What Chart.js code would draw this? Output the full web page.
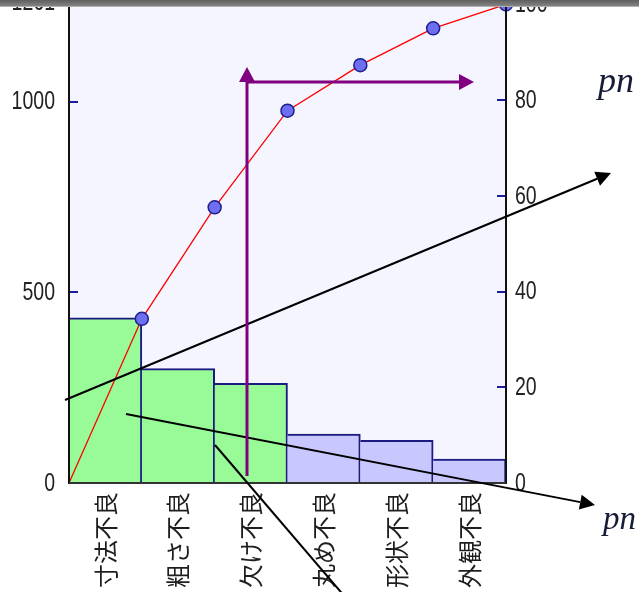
<!DOCTYPE html>
<html>
<head>
<meta charset="utf-8">
<script src="https://cdn.jsdelivr.net/npm/chart.js@4.4.1/dist/chart.umd.min.js"></script>
<style>
  html, body { margin: 0; padding: 0; background: #ffffff; overflow: hidden; }
  canvas { display: block; }
</style>
</head>
<body>
<canvas id="pareto" width="639" height="592"></canvas>
<script>
// Defect categories and counts (Pareto order)
const categories = ['寸法不良', '粗さ不良', '欠け不良', '丸め不良', '形状不良', '外観不良'];
const defectCounts = [433, 300, 261, 128, 112, 63];
// Cumulative share (%) at the right edge of each bar, starting from the origin
const cumulativePositions = [0, 1, 2, 3, 4, 5, 6];
const cumulativePercent = [0, 34.3, 57.6, 77.8, 87.3, 95.0, 100];
// Axis tick values
const countTicks = [0, 500, 1000, 1261];
const percentTicks = [0, 20, 40, 60, 80, 100];
// The first three categories are the "vital few"
const barColors = ['#98fb98', '#98fb98', '#98fb98', '#c8c8ff', '#c8c8ff', '#c8c8ff'];

const numFont = "25px 'Liberation Sans', 'DejaVu Sans', sans-serif";
const numSqueeze = 0.78;

function arrow(ctx, x1, y1, x2, y2, color, width, headLen, headHalf) {
  const a = Math.atan2(y2 - y1, x2 - x1);
  const bx = x2 - headLen * Math.cos(a), by = y2 - headLen * Math.sin(a);
  ctx.save();
  ctx.strokeStyle = color; ctx.fillStyle = color; ctx.lineWidth = width;
  ctx.beginPath(); ctx.moveTo(x1, y1); ctx.lineTo(bx, by); ctx.stroke();
  if (headLen > 0) {
    ctx.beginPath();
    ctx.moveTo(x2, y2);
    ctx.lineTo(bx + headHalf * Math.sin(a), by - headHalf * Math.cos(a));
    ctx.lineTo(bx - headHalf * Math.sin(a), by + headHalf * Math.cos(a));
    ctx.closePath(); ctx.fill();
  }
  ctx.restore();
}

// narrow numeric tick labels
function tickLabel(ctx, text, x, y, align) {
  ctx.save();
  ctx.font = numFont;
  ctx.fillStyle = '#222222';
  ctx.textAlign = align;
  ctx.textBaseline = 'middle';
  ctx.translate(x, y);
  ctx.scale(numSqueeze, 1);
  ctx.fillText(text, 0, 1);
  ctx.restore();
}

const framePlugin = {
  id: 'frame',
  beforeDraw(chart) {
    const { ctx, chartArea: a } = chart;
    ctx.save();
    ctx.fillStyle = '#f5f5ff';
    ctx.fillRect(a.left, 0, a.right - a.left, a.bottom);
    ctx.restore();
  },
  afterDraw(chart) {
    const { ctx, chartArea: a } = chart;
    const yL = chart.scales.y, yR = chart.scales.yR;

    yL.ticks.forEach(t => tickLabel(ctx, String(t.value), a.left - 14, yL.getPixelForValue(t.value), 'right'));
    yR.ticks.forEach(t => tickLabel(ctx, String(t.value), a.right + 9, yR.getPixelForValue(t.value), 'left'));

    ctx.save();
    // inward tick marks
    ctx.strokeStyle = '#1c1ca0'; ctx.lineWidth = 2;
    [500, 1000].forEach(v => {
      const p = Math.round(yL.getPixelForValue(v));
      ctx.beginPath(); ctx.moveTo(a.left, p); ctx.lineTo(a.left + 9, p); ctx.stroke();
    });
    [20, 40, 60, 80].forEach(v => {
      const p = Math.round(yR.getPixelForValue(v));
      ctx.beginPath(); ctx.moveTo(a.right - 9, p); ctx.lineTo(a.right, p); ctx.stroke();
    });
    // axis lines
    ctx.strokeStyle = '#111111'; ctx.lineWidth = 2;
    ctx.beginPath(); ctx.moveTo(a.left, 0); ctx.lineTo(a.left, a.bottom + 1); ctx.stroke();
    ctx.beginPath(); ctx.moveTo(a.right, 0); ctx.lineTo(a.right, a.bottom + 1); ctx.stroke();
    ctx.strokeStyle = '#333333';
    ctx.beginPath(); ctx.moveTo(a.left, a.bottom); ctx.lineTo(a.right, a.bottom); ctx.stroke();
    ctx.restore();

    // explanatory arrows and labels
    arrow(ctx, 65, 400, 611, 173, '#000000', 2, 15, 7.5);
    arrow(ctx, 126, 414, 595, 505, '#000000', 2, 15, 7.5);
    arrow(ctx, 215, 445, 346, 598, '#000000', 2, 0, 0);
    arrow(ctx, 247, 476, 247, 67, '#800080', 3, 15, 8);
    arrow(ctx, 246, 82, 474, 82, '#800080', 3, 15, 8);

    ctx.save();
    ctx.fillStyle = '#161c38';
    ctx.font = "italic 36px 'Liberation Serif', 'DejaVu Serif', serif";
    ctx.textBaseline = 'alphabetic';
    ctx.fillText('pn', 598, 92);
    ctx.font = "italic 33px 'Liberation Serif', 'DejaVu Serif', serif";
    ctx.fillText('pn', 603, 529);
    ctx.restore();

    // window title strip along the top
    ctx.save();
    const g = ctx.createLinearGradient(0, 0, 0, 7);
    g.addColorStop(0, '#5e5e5e');
    g.addColorStop(1, '#8a8a8a');
    ctx.fillStyle = g;
    ctx.fillRect(0, 0, 639, 6);
    ctx.fillStyle = '#b0b0b0';
    ctx.fillRect(0, 6, 639, 1);
    ctx.restore();
  }
};

new Chart(document.getElementById('pareto'), {
  data: {
    labels: categories,
    datasets: [
      {
        type: 'line',
        label: '累積比率',
        data: cumulativePositions.map((x, i) => ({ x, y: cumulativePercent[i] })),
        xAxisID: 'xLine',
        yAxisID: 'yR',
        borderColor: '#ff0000',
        borderWidth: 1.3,
        pointRadius: cumulativePositions.map(x => (x === 0 ? 0 : 6.5)),
        pointBackgroundColor: '#6e6ef0',
        pointBorderColor: '#1e1e8c',
        pointBorderWidth: 1.5,
        tension: 0,
        clip: false,
        order: 0
      },
      {
        type: 'bar',
        label: '不良数',
        data: defectCounts,
        xAxisID: 'x',
        yAxisID: 'y',
        backgroundColor: barColors,
        borderColor: '#1a1a80',
        borderWidth: { top: 2, right: 2, left: 0, bottom: 0 },
        borderSkipped: false,
        grouped: false,
        barPercentage: 1,
        categoryPercentage: 1,
        order: 1
      }
    ]
  },
  options: {
    responsive: false,
    animation: false,
    devicePixelRatio: 1,
    layout: { autoPadding: false, padding: { top: 2, left: 0, right: 0, bottom: 0 } },
    plugins: { legend: { display: false }, tooltip: { enabled: false } },
    scales: {
      x: {
        type: 'category',
        position: 'bottom',
        offset: true,
        grid: { display: false, drawTicks: false },
        border: { display: false },
        ticks: {
          autoSkip: false,
          minRotation: 90,
          maxRotation: 90,
          padding: 9,
          color: '#1e1e1e',
          font: { family: "'Noto Sans CJK JP', sans-serif", size: 24 }
        },
        afterFit(s) { s.height = 109; s.paddingLeft = 0; s.paddingRight = 0; }
      },
      xLine: {
        type: 'linear',
        display: false,
        min: 0,
        max: 6,
        offset: false
      },
      y: {
        position: 'left',
        min: 0,
        max: 1261,
        grid: { display: false, drawTicks: false },
        border: { display: false },
        afterBuildTicks(s) { s.ticks = countTicks.map(v => ({ value: v })); },
        ticks: { display: false },
        afterFit(s) { s.width = 69; s.paddingTop = 0; s.paddingBottom = 0; }
      },
      yR: {
        position: 'right',
        min: 0,
        max: 100.5,
        grid: { display: false, drawTicks: false },
        border: { display: false },
        afterBuildTicks(s) { s.ticks = percentTicks.map(v => ({ value: v })); },
        ticks: { display: false },
        afterFit(s) { s.width = 133; s.paddingTop = 0; s.paddingBottom = 0; }
      }
    }
  },
  plugins: [framePlugin]
});
</script>
</body>
</html>
